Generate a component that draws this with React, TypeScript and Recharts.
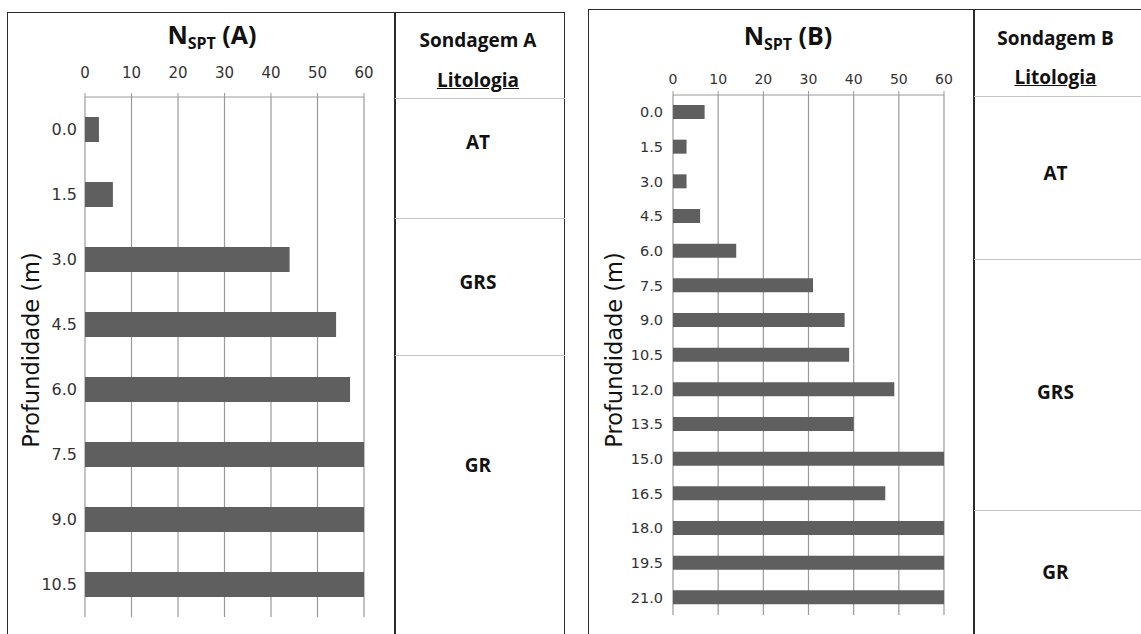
import React from 'react'
import { BarChart, Bar, XAxis, YAxis, CartesianGrid } from 'recharts'

// Sondagem A
const depthsA = ['0.0', '1.5', '3.0', '4.5', '6.0', '7.5', '9.0', '10.5']
const nsptA = [3, 6, 44, 54, 57, 60, 60, 60]
const litoA = ['AT', 'GRS', 'GR']

// Sondagem B
const depthsB = ['0.0', '1.5', '3.0', '4.5', '6.0', '7.5', '9.0', '10.5', '12.0', '13.5', '15.0', '16.5', '18.0', '19.5', '21.0']
const nsptB = [7, 3, 3, 6, 14, 31, 38, 39, 49, 40, 60, 47, 60, 60, 60]
const litoB = ['AT', 'GRS', 'GR']

const xTicks = [0, 10, 20, 30, 40, 50, 60]

const dataA = depthsA.map((d, i) => ({ depth: d, nspt: nsptA[i] }))
const dataB = depthsB.map((d, i) => ({ depth: d, nspt: nsptB[i] }))

const BAR = '#5f5f5f'
const GRID = '#9a9a9a'
const BORDER = '#2b2b2b'
const SEP = '#c4c4c4'
const TICK = '#333'

// layout of the lithology columns (y of boundaries, y of labels)
const layoutA = { x: 395, w: 170, lines: [98, 218, 355], labels: [142, 282, 465] }
const layoutB = { x: 974, w: 167, lines: [96, 259, 510], labels: [173, 392, 572] }

function Title({ letter, cx, cy }: { letter: string; cx: number; cy: number }) {
  return (
    <div style={{
      position: 'absolute', left: cx - 100, width: 200, top: cy - 18, height: 36,
      textAlign: 'center', fontWeight: 700, fontSize: 25, lineHeight: '36px', color: '#111',
    }}>
      N<sub style={{ fontSize: 16, verticalAlign: -5, lineHeight: 0 }}>SPT</sub> ({letter})
    </div>
  )
}

function Label({ text, cx, cy, size = 19, underline = false }: { text: string; cx: number; cy: number; size?: number; underline?: boolean }) {
  return (
    <div style={{
      position: 'absolute', left: cx - 90, width: 180, top: cy - 15, height: 30,
      textAlign: 'center', fontWeight: 700, fontSize: size, lineHeight: '30px', color: '#111',
      textDecoration: underline ? 'underline' : 'none', whiteSpace: 'nowrap',
    }}>{text}</div>
  )
}

function AxisTitle({ cx, cy }: { cx: number; cy: number }) {
  return (
    <div style={{
      position: 'absolute', left: cx - 120, top: cy - 15, width: 240, height: 30,
      textAlign: 'center', fontFamily: 'DejaVu Sans', fontSize: 22.5, lineHeight: '30px', color: '#111',
      transform: 'rotate(-90deg)', whiteSpace: 'nowrap',
    }}>Profundidade (m)</div>
  )
}

function Lito({ names, lay, header }: { names: string[]; lay: typeof layoutA; header: [string, number, number] }) {
  const cx = lay.x + lay.w / 2
  return (
    <>
      {lay.lines.map((y, i) => (
        <div key={i} style={{ position: 'absolute', left: lay.x, width: lay.w, top: y, height: 1, background: SEP }} />
      ))}
      <Label text={header[0]} cx={cx - 2} cy={header[1]} />
      <Label text="Litologia" cx={cx - 2} cy={header[2]} underline />
      {names.map((n, i) => <Label key={n} text={n} cx={cx - 2} cy={lay.labels[i]} />)}
    </>
  )
}

export default function App() {
  return (
    <div style={{
      position: 'absolute', left: 0, top: 0, width: 1141, height: 634, overflow: 'hidden',
      background: '#fff', fontFamily: 'Open Sans',
    }}>
      {/* panel A */}
      <div style={{ position: 'absolute', left: 7, top: 12, width: 558, height: 640, border: `1.5px solid ${BORDER}`, boxSizing: 'border-box' }} />
      <div style={{ position: 'absolute', left: 394, top: 12, width: 1.5, height: 640, background: BORDER }} />
      <div style={{ position: 'absolute', left: 0, top: 0 }}>
        <BarChart width={394} height={634} data={dataA} layout="vertical"
          margin={{ top: 67, right: 30, bottom: 17, left: 35 }}>
          <CartesianGrid horizontal={false} stroke={GRID} strokeWidth={1.2} />
          <XAxis type="number" orientation="top" domain={[0, 60]} ticks={xTicks} height={30}
            axisLine={{ stroke: GRID }} tickLine={{ stroke: GRID }} tickSize={4} tickMargin={15}
            tick={{ fontSize: 15, fill: TICK, fontFamily: 'DejaVu Sans' }} />
          <YAxis type="category" dataKey="depth" width={50} axisLine={false} tickLine={false}
            tickSize={0} tickMargin={8} tick={{ fontSize: 16, fill: TICK, fontFamily: 'DejaVu Sans' }} />
          <Bar dataKey="nspt" fill={BAR} barSize={25} isAnimationActive={false} />
        </BarChart>
      </div>
      <Title letter="A" cx={212} cy={34} />
      <AxisTitle cx={31} cy={350} />
      <Lito names={litoA} lay={layoutA} header={['Sondagem A', 40, 80]} />

      {/* panel B */}
      <div style={{ position: 'absolute', left: 588, top: 9, width: 600, height: 640, border: `1.5px solid ${BORDER}`, boxSizing: 'border-box' }} />
      <div style={{ position: 'absolute', left: 973, top: 9, width: 1.5, height: 640, background: BORDER }} />
      <div style={{ position: 'absolute', left: 588, top: 0 }}>
        <BarChart width={385} height={634} data={dataB} layout="vertical"
          margin={{ top: 65, right: 29, bottom: 19, left: 35 }}>
          <CartesianGrid horizontal={false} stroke={GRID} strokeWidth={1.2} />
          <XAxis type="number" orientation="top" domain={[0, 60]} ticks={xTicks} height={30}
            axisLine={{ stroke: GRID }} tickLine={{ stroke: GRID }} tickSize={4} tickMargin={7}
            tick={{ fontSize: 14, fill: TICK, fontFamily: 'DejaVu Sans' }} />
          <YAxis type="category" dataKey="depth" width={50} axisLine={false} tickLine={false}
            tickSize={0} tickMargin={10} tick={{ fontSize: 14.5, fill: TICK, fontFamily: 'DejaVu Sans' }} />
          <Bar dataKey="nspt" fill={BAR} barSize={14} isAnimationActive={false} />
        </BarChart>
      </div>
      <Title letter="B" cx={788} cy={35} />
      <AxisTitle cx={614} cy={350} />
      <Lito names={litoB} lay={layoutB} header={['Sondagem B', 38, 77]} />
    </div>
  )
}
